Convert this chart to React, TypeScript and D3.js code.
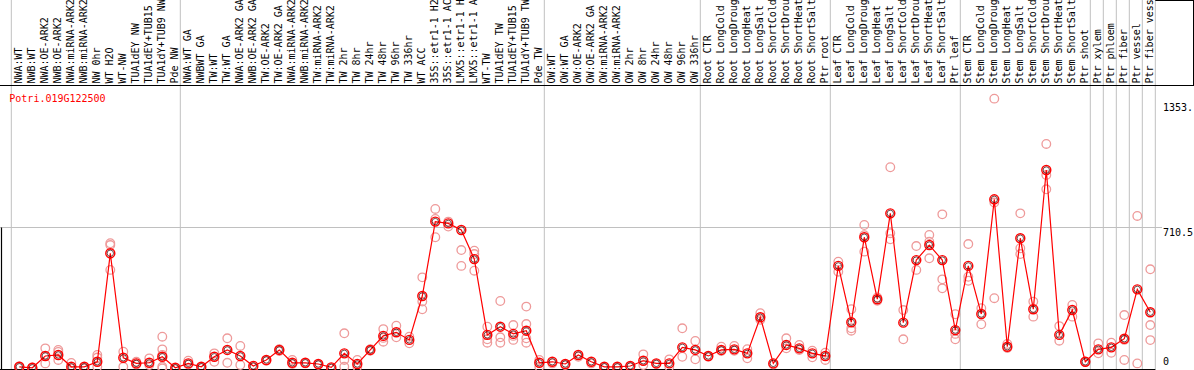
import React from "react";
import * as d3 from "d3";

const title = "Potri.019G122500";

const categories: string[] = [
  "NWA:WT", "NWB:WT", "NWA:OE-ARK2", "NWB:OE-ARK2", "NWA:miRNA-ARK2", "NWB:miRNA-ARK2", "NW 0hr", "WT H2O", "WT-NW", "TUA1dEY NW", "TUA1dEY+TUB15", "TUA1dY+TUB9 NW", "Pde NW",
  "NWA:WT GA", "NWBWT GA", "TW:WT", "TW:WT GA", "NWA:OE-ARK2 GA", "NWB:OE-ARK2 GA", "TW:OE-ARK2", "TW:OE-ARK2 GA", "NWA:miRNA-ARK2", "NWB:miRNA-ARK2", "TW:miRNA-ARK2", "TW:miRNA-ARK2", "TW 2hr", "TW 8hr", "TW 24hr", "TW 48hr", "TW 96hr", "TW 336hr", "WT ACC", "35S::etr1-1 H2O", "35S::etr1-1 ACC", "LMX5::etr1-1 H2O", "LMX5::etr1-1 ACC", "WT-TW", "TUA1dEY TW", "TUA1dEY+TUB15", "TUA1dY+TUB9 TW", "Pde TW",
  "OW:WT", "OW:WT GA", "OW:OE-ARK2", "OW:OE-ARK2 GA", "OW:miRNA-ARK2", "OW:miRNA-ARK2", "OW 2hr", "OW 8hr", "OW 24hr", "OW 48hr", "OW 96hr", "OW 336hr",
  "Root CTR", "Root LongCold", "Root LongDrought", "Root LongHeat", "Root LongSalt", "Root ShortCold", "Root ShortDrought", "Root ShortHeat", "Root ShortSalt", "Ptr root",
  "Leaf CTR", "Leaf LongCold", "Leaf LongDrought", "Leaf LongHeat", "Leaf LongSalt", "Leaf ShortCold", "Leaf ShortDrought", "Leaf ShortHeat", "Leaf ShortSalt", "Ptr leaf",
  "Stem CTR", "Stem LongCold", "Stem LongDrought", "Stem LongHeat", "Stem LongSalt", "Stem ShortCold", "Stem ShortDrought", "Stem ShortHeat", "Stem ShortSalt", "Ptr shoot",
  "Ptr xylem", "Ptr phloem", "Ptr fiber", "Ptr vessel", "Ptr fiber vessel",
];

// group boundaries (index where a new group starts)
const groupBreaks: number[] = [0, 13, 41, 53, 63, 73, 83, 84, 85, 86, 87, 88];

const means: number[] = [
  16, 11, 70, 75, 16, 16, 41, 582, 61, 33, 36, 66, 11,
  33, 16, 66, 100, 70, 20, 50, 100, 36, 36, 30, 13, 83, 30, 100, 170, 188, 150, 369, 740, 731, 698, 553, 175, 216, 180, 196, 36,
  41, 30, 75, 41, 16, 16, 20, 46, 33, 33, 113, 100,
  70, 100, 103, 83, 263, 33, 125, 108, 83, 70,
  519, 238, 662, 353, 781, 236, 548, 623, 548, 199,
  519, 279, 851, 116, 657, 303, 997, 175, 299, 41,
  103, 113, 156, 402, 288,
];

const replicates: number[][] = [
  [14, 18], [9, 13], [108, 33], [100, 50, 90], [35, 8], [12, 8], [75, 16, 62], [632, 623, 499], [91, 16], [41, 28], [58, 25], [166, 103, 75, 16, 8], [8, 6],
  [46, 28], [12], [83, 41], [158, 36], [120, 25], [14], [46], [104, 95], [50, 30], [33], [26], [10], [183, 50, 16], [50, 16], [104, 96], [204, 141, 160], [221, 163], [166, 133], [462, 341, 303], [803, 753, 662], [740, 715], [598, 519], [595, 578, 495], [216, 153, 136], [344, 163, 136], [224, 150, 170], [316, 229, 158, 136], [50, 16],
  [33], [25], [66], [33], [12], [10], [16], [78, 25], [30], [53, 16], [208, 66], [145, 53],
  [66], [116, 95], [120, 96], [104, 58], [283, 250], [28], [158, 108], [125, 100], [96, 63], [86, 50],
  [540, 490], [303, 208, 196], [723, 672, 590], [345, 362], [1011, 682, 652], [299, 153], [618, 499], [673, 640, 557], [776, 452, 407], [278, 180, 153],
  [628, 465, 445], [308, 228], [1353, 358, 835], [130, 110], [781, 607, 578], [341, 266], [1127, 972, 901], [219, 146], [324, 266], [41],
  [133, 83], [136, 86], [274, 50, 150], [768, 33], [502, 224, 149],
];

const yTickValues: number[] = [1353, 710.5, 0];
const yTickLabels: string[] = ["1353.", "710.5", "0"];
const yMax = 1421;

const W = 1194;
const H = 370;
const FONT = "'DejaVu Sans Mono', monospace";

export default function App() {
  const n = categories.length;
  const xb = d3.scaleLinear().domain([0, n]).range([11.3, 11.3 + 13 * n]);
  const px = (i: number) => xb(i) + 8;
  const y = d3.scaleLinear().domain([0, yMax]).range([370, 85]);
  const line = d3
    .line<number>()
    .x((_, i) => px(i))
    .y((d) => y(d));

  const plotRight = xb(n);
  const yOffsets = [12, 8, -5];

  return (
    <svg
      width={W}
      height={H}
      style={{ position: "absolute", left: 0, top: 0, background: "#fff" }}
      fontFamily={FONT}
    >
      <rect x={0} y={0} width={W} height={H} fill="#fff" />
      {/* vertical group grid lines */}
      {groupBreaks.map((k) => (
        <line key={"g" + k} x1={xb(k)} x2={xb(k)} y1={0} y2={H} stroke="#c0c0c0" strokeWidth={1} />
      ))}
      {/* horizontal mid grid line */}
      <line x1={0} x2={1162} y1={y(710.5)} y2={y(710.5)} stroke="#c0c0c0" strokeWidth={1} />
      {/* category labels */}
      {categories.map((c, i) => (
        <text
          key={"l" + i}
          transform={`translate(${px(i) + 2.5},83.5) rotate(-90)`}
          fontSize={10}
          fill="#000"
        >
          {c}
        </text>
      ))}
      {/* frame lines */}
      <line x1={0} x2={W} y1={85.5} y2={85.5} stroke="#000" strokeWidth={1} />
      <line x1={plotRight} x2={W} y1={0.5} y2={0.5} stroke="#000" strokeWidth={1} />
      <line x1={W - 0.5} x2={W - 0.5} y1={0} y2={85.5} stroke="#000" strokeWidth={1} />
      <line x1={1.5} x2={1.5} y1={y(710.5)} y2={H} stroke="#000" strokeWidth={1.2} />
      <line x1={0} x2={plotRight} y1={369.5} y2={369.5} stroke="#000" strokeWidth={1.2} />
      {/* title */}
      <text x={9.3} y={101.5} fontSize={10} fill="#ff0000">
        {title}
      </text>
      {/* y labels */}
      {yTickValues.map((v, i) => (
        <text key={"y" + i} x={1163} y={y(v) + yOffsets[i]} fontSize={10} fill="#000">
          {yTickLabels[i]}
        </text>
      ))}
      {/* replicates */}
      {replicates.map((reps, i) =>
        reps.map((v, j) => (
          <circle
            key={"r" + i + "_" + j}
            cx={px(i)}
            cy={y(v)}
            r={4.3}
            fill="none"
            stroke="#ee9a9a"
            strokeWidth={1.3}
          />
        ))
      )}
      {/* mean line */}
      <path d={line(means) || ""} fill="none" stroke="#ff0000" strokeWidth={1.2} />
      {/* mean markers */}
      {means.map((v, i) => (
        <g key={"m" + i}>
          <circle cx={px(i)} cy={y(v)} r={4.5} fill="none" stroke="#ff0000" strokeWidth={1.4} />
          <circle cx={px(i)} cy={y(v)} r={3.2} fill="none" stroke="#300000" strokeWidth={0.7} />
        </g>
      ))}
    </svg>
  );
}
